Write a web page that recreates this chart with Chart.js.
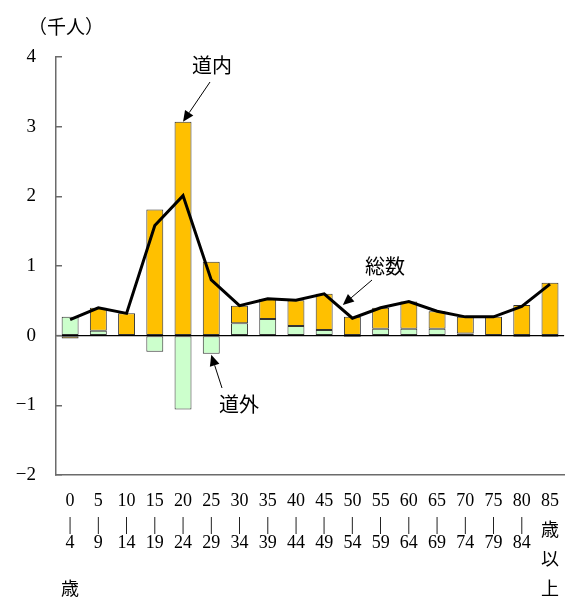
<!DOCTYPE html>
<html lang="ja">
<head>
<meta charset="utf-8">
<script src="https://cdn.jsdelivr.net/npm/chart.js@4/dist/chart.umd.min.js"></script>
<style>
  html, body { margin: 0; padding: 0; background: #fff; }
  canvas { display: block; }
</style>
</head>
<body>
<canvas id="chart" width="571" height="597"></canvas>
<script>
// Age groups (five-year bands, last one open-ended)
const ageFrom = ['0', '5', '10', '15', '20', '25', '30', '35', '40', '45', '50', '55', '60', '65', '70', '75', '80', '85'];
const ageTo   = ['4', '9', '14', '19', '24', '29', '34', '39', '44', '49', '54', '59', '64', '69', '74', '79', '84'];

// Net migration, thousands of people
const outsideHokkaido = [0.27, 0.07, 0.01, -0.23, -1.06, -0.26, 0.18, 0.24, 0.14, 0.08, -0.02, 0.10, 0.10, 0.10, 0.03, 0.01, -0.02, -0.02]; // 道外
const withinHokkaido  = [-0.04, 0.33, 0.31, 1.81, 3.07, 1.06, 0.25, 0.29, 0.37, 0.52, 0.27, 0.30, 0.39, 0.25, 0.24, 0.26, 0.44, 0.76]; // 道内
const totalNet        = [0.23, 0.40, 0.32, 1.58, 2.01, 0.80, 0.43, 0.53, 0.51, 0.60, 0.25, 0.40, 0.49, 0.35, 0.27, 0.27, 0.42, 0.74]; // 総数

const yTicks = { min: -2, max: 4, step: 1 };

// Category labels are written vertically; each text sits in a fixed slot.
const SLOT = 5.9;
function slotted(parts) {
  const lines = [];
  for (const [text, slot] of parts) {
    while (lines.length <= slot) lines.push('');
    lines[slot] = text;
  }
  return lines;
}
const xLabels = ageFrom.map((from, i) => {
  if (i < ageTo.length) {
    const parts = [[from, 2], ['|', 6], [ageTo[i], 9]];
    if (i === 0) parts.push(['歳', 17]);
    return slotted(parts);
  }
  return slotted([[from, 2], ['歳', 7], ['以', 12], ['上', 17]]);
});

const SERIF = '"Liberation Serif", "Noto Sans CJK JP", serif';
const CJK = '"Noto Sans CJK JP", sans-serif';

function arrow(ctx, x1, y1, x2, y2) {
  const ang = Math.atan2(y2 - y1, x2 - x1);
  const head = 11, half = 5;
  const bx = x2 - head * Math.cos(ang), by = y2 - head * Math.sin(ang);
  ctx.beginPath();
  ctx.moveTo(x1, y1);
  ctx.lineTo(bx, by);
  ctx.lineWidth = 1;
  ctx.strokeStyle = '#000';
  ctx.stroke();
  ctx.beginPath();
  ctx.moveTo(x2, y2);
  ctx.lineTo(bx + half * Math.sin(ang), by - half * Math.cos(ang));
  ctx.lineTo(bx - half * Math.sin(ang), by + half * Math.cos(ang));
  ctx.closePath();
  ctx.fillStyle = '#000';
  ctx.fill();
}

// Unit caption and the callout labels with their arrows
const calloutPlugin = {
  id: 'callouts',
  afterDatasetsDraw(chart) {
    const { ctx, scales: { x, y } } = chart;
    ctx.save();
    ctx.fillStyle = '#000';
    ctx.textAlign = 'center';
    ctx.textBaseline = 'middle';
    ctx.font = '19px ' + CJK;
    ctx.fillText('（千人）', 66, 27);

    ctx.font = '20px ' + CJK;
    // 道内: top of the 20–24 bar
    const i1 = 4;
    const tip1 = { x: x.getPixelForValue(i1), y: y.getPixelForValue(withinHokkaido[i1] + Math.max(outsideHokkaido[i1], 0)) };
    ctx.fillText('道内', 212, 65);
    arrow(ctx, 210, 82, tip1.x, tip1.y);

    // 道外: bottom of the 25–29 bar
    const i2 = 5;
    const tip2 = { x: x.getPixelForValue(i2), y: y.getPixelForValue(outsideHokkaido[i2] + Math.min(withinHokkaido[i2], 0)) };
    ctx.fillText('道外', 239, 404);
    arrow(ctx, 222, 388, tip2.x, tip2.y + 1);

    // 総数: on the total line between 45–49 and 50–54
    const t = 0.66;
    const tx = x.getPixelForValue(9) + t * (x.getPixelForValue(10) - x.getPixelForValue(9));
    const ty = y.getPixelForValue(totalNet[9] + t * (totalNet[10] - totalNet[9])) - 5;
    ctx.fillText('総数', 385, 266);
    arrow(ctx, 372, 280, tx, ty);
    ctx.restore();
  }
};

new Chart(document.getElementById('chart'), {
  type: 'bar',
  data: {
    labels: xLabels,
    datasets: [
      {
        label: '道外',
        data: outsideHokkaido,
        backgroundColor: '#CCFFCC',
        borderColor: '#333',
        borderWidth: 1,
        borderSkipped: false,
        barPercentage: 0.6,
        categoryPercentage: 1,
        stack: 'bars',
        order: 1
      },
      {
        label: '道内',
        data: withinHokkaido,
        backgroundColor: '#FFC000',
        borderColor: '#333',
        borderWidth: 1,
        borderSkipped: false,
        barPercentage: 0.6,
        categoryPercentage: 1,
        stack: 'bars',
        order: 1
      },
      {
        type: 'line',
        label: '総数',
        data: totalNet,
        borderColor: '#000',
        borderWidth: 3,
        pointRadius: 0,
        tension: 0,
        fill: false,
        stack: 'line',
        order: 0
      }
    ]
  },
  options: {
    responsive: false,
    animation: false,
    layout: { padding: { top: 57, left: 0, right: 0, bottom: 0 } },
    plugins: {
      legend: { display: false },
      tooltip: { enabled: false }
    },
    scales: {
      x: {
        stacked: true,
        grid: { display: false, drawTicks: false },
        border: { display: true, color: '#6b6b6b', width: 1.5 },
        ticks: {
          autoSkip: false,
          maxRotation: 0,
          minRotation: 0,
          padding: 12,
          color: '#000',
          font: { family: SERIF, size: 18, lineHeight: SLOT + 'px' }
        },
        afterFit(scale) { scale.height = 122; }
      },
      y: {
        stacked: true,
        min: yTicks.min,
        max: yTicks.max,
        grid: {
          z: 1,
          drawOnChartArea: true,
          tickLength: -6,
          color: (c) => (c.tick && c.tick.value === 0 ? '#000' : 'rgba(0,0,0,0)'),
          lineWidth: (c) => (c.tick && c.tick.value === 0 ? 1.3 : 1.5),
          tickColor: '#6b6b6b',
          tickWidth: 1.5
        },
        border: { display: true, color: '#6b6b6b', width: 1.5, z: 2 },
        ticks: {
          stepSize: yTicks.step,
          padding: 26,
          color: '#000',
          font: { family: SERIF, size: 19 },
          callback: (v) => (v < 0 ? '\u2212' + Math.abs(v) : String(v))
        },
        afterFit(scale) { scale.width = 56; }
      }
    }
  },
  plugins: [calloutPlugin]
});
</script>
</body>
</html>
